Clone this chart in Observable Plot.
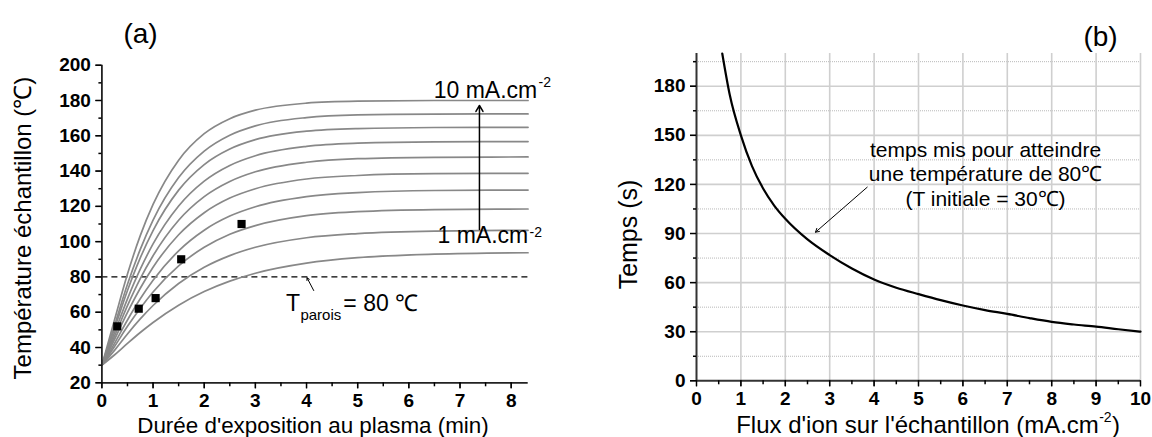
<!DOCTYPE html>
<html><head><meta charset="utf-8">
<script src="https://cdn.jsdelivr.net/npm/d3@7"></script>
<script src="https://cdn.jsdelivr.net/npm/@observablehq/plot@0.6"></script>
<style>
body{margin:0;background:#fff;}
#wrap{position:relative;width:1152px;height:437px;overflow:hidden;background:#fff;}
#wrap svg{position:absolute;top:0;}
</style></head><body><div id="wrap"></div>
<script>
// ---------- Panel (a) data ----------
const timeMin = [0, 0.25, 0.5, 0.75, 1, 1.5, 2, 2.5, 3, 4, 5, 6.5, 8.33];
const fluxLevels = [1, 2, 3, 4, 5, 6, 7, 8, 9, 10];
const temp1mA  = [30, 35.9, 42.3, 48.5, 54.2, 64.0, 71.7, 77.6, 82.1, 87.8, 90.9, 92.9, 93.7];
const temp2mA  = [30, 38.5, 47.7, 56.2, 63.8, 76.3, 85.5, 92.1, 96.8, 102.2, 104.6, 106.0, 106.4];
const temp3mA  = [30, 40.7, 52.0, 62.3, 71.5, 86.3, 96.8, 104.2, 109.1, 114.7, 117.0, 118.2, 118.5];
const temp4mA  = [30, 42.5, 55.6, 67.6, 78.1, 94.8, 106.5, 114.5, 119.8, 125.5, 127.8, 129.0, 129.2];
const temp5mA  = [30, 44.7, 59.9, 73.6, 85.5, 103.9, 116.4, 124.7, 130.0, 135.5, 137.5, 138.5, 138.7];
const temp6mA  = [30, 46.6, 63.7, 79.0, 92.0, 112.1, 125.5, 134.1, 139.6, 145.0, 147.0, 147.8, 148.0];
const temp7mA  = [30, 48.6, 67.6, 84.4, 98.7, 120.2, 134.3, 143.2, 148.7, 154.0, 155.8, 156.6, 156.7];
const temp8mA  = [30, 51.0, 72.3, 90.8, 106.3, 129.2, 143.7, 152.5, 157.8, 162.6, 164.1, 164.7, 164.8];
const temp9mA  = [30, 52.8, 75.8, 95.6, 112.2, 136.3, 151.3, 160.3, 165.6, 170.3, 171.8, 172.3, 172.4];
const temp10mA = [30, 56.0, 81.6, 103.4, 121.1, 146.2, 161.2, 169.7, 174.5, 178.5, 179.6, 180.0, 180.0];
const expTime = [0.3, 0.72, 1.05, 1.55, 2.73];
const expTemp = [52, 62, 68, 90, 110];
const wallTemp = [80];
const ticksAy = [20, 40, 60, 80, 100, 120, 140, 160, 180, 200];
const minorAy = [30, 50, 70, 90, 110, 130, 150, 170, 190];
const ticksAx = [0, 1, 2, 3, 4, 5, 6, 7, 8];
const minorAx = [0.5, 1.5, 2.5, 3.5, 4.5, 5.5, 6.5, 7.5];

// ---------- Panel (b) data ----------
const fluxB = [0.58, 0.75, 1, 1.25, 1.5, 1.75, 2, 2.5, 3, 3.5, 4, 4.5, 5, 5.5, 6, 6.5, 7, 7.5, 8, 8.5, 9, 9.5, 10];
const timeB = [200, 174.6, 150, 131.2, 117.5, 107.1, 99, 86.4, 76.8, 68.6, 61.9, 56.9, 53, 49.3, 46, 43.2, 40.9, 38.3, 36.0, 34.4, 33.1, 31.5, 30];
const ticksBy = [0, 30, 60, 90, 120, 150, 180];
const minorBy = [15, 45, 75, 105, 135, 165, 195];
const ticksBx = [0, 1, 2, 3, 4, 5, 6, 7, 8, 9, 10];
const minorBx = [0.5, 1.5, 2.5, 3.5, 4.5, 5.5, 6.5, 7.5, 8.5, 9.5];
const gridBx = [1, 2, 3, 4, 5, 6, 7, 8, 9, 10];
const gridBy = [30, 60, 90, 120, 150, 180];

const tempSeries = [temp1mA, temp2mA, temp3mA, temp4mA, temp5mA, temp6mA, temp7mA, temp8mA, temp9mA, temp10mA];
const curveRows = fluxLevels.flatMap((J, i) => timeMin.map((t, k) => ({J, t, T: tempSeries[i][k]})));
const expRows = expTime.map((t, i) => ({t, T: expTemp[i]}));
const fluxRows = fluxB.map((J, i) => ({J, s: timeB[i]}));

const FONT = "Liberation Sans, Arial, Helvetica, sans-serif";
const baseStyle = {fontFamily: FONT, fontSize: "19px", overflow: "visible"};
const blank = () => "";

// ---------- Plot (a) ----------
const plotA = Plot.plot({
  width: 576, height: 437,
  marginLeft: 101.4, marginRight: 48.3, marginTop: 64.7, marginBottom: 54.7,
  style: baseStyle,
  x: {domain: [0, 8.333], label: null},
  y: {domain: [20, 200], label: null},
  marks: [
    Plot.ruleY(wallTemp, {stroke: "black", strokeWidth: 1.2, strokeDasharray: "6,4"}),
    Plot.line(curveRows, {x: "t", y: "T", z: "J", stroke: "#888", strokeWidth: 1.7, curve: "monotone-x"}),
    Plot.dot(expRows, {x: "t", y: "T", symbol: "square", fill: "black", stroke: "none", r: 4.6}),
    Plot.arrow([{x1: 7.38, y1: 106.9, x2: 7.38, y2: 177.2}], {x1: "x1", y1: "y1", x2: "x2", y2: "y2", stroke: "black", strokeWidth: 1.5, headLength: 7}),
    Plot.arrow([{x1: 4.14, y1: 72.3, x2: 4.01, y2: 79.5}], {x1: "x1", y1: "y1", x2: "x2", y2: "y2", stroke: "black", strokeWidth: 1, headLength: 4}),
    Plot.ruleX([0], {stroke: "#222", strokeWidth: 1.8}),
    Plot.ruleY([20], {stroke: "#222", strokeWidth: 1.8}),
    Plot.axisY({ticks: ticksAy, tickSize: 6, tickPadding: 5, fontWeight: "bold", fontSize: 19, label: null}),
    Plot.axisY({ticks: ticksAy, tickSize: 6, strokeWidth: 1.5, tickFormat: blank, label: null}),
    Plot.axisY({ticks: minorAy, tickSize: 3, strokeWidth: 1.5, tickFormat: blank, label: null}),
    Plot.axisX({ticks: ticksAx, tickSize: 6, tickPadding: 5, fontWeight: "bold", fontSize: 19, label: null}),
    Plot.axisX({ticks: ticksAx, tickSize: 6, strokeWidth: 1.5, tickFormat: blank, label: null}),
    Plot.axisX({ticks: minorAx, tickSize: 4, strokeWidth: 1.5, tickFormat: blank, label: null}),
    // texts
    Plot.text([{x: 0.755, y: 217.4, s: "(a)"}], {x: "x", y: "y", text: "s", fontSize: 28}),
    Plot.text([{x: -1.53, y: 107.7, s: "Température échantillon (℃)"}], {x: "x", y: "y", text: "s", fontSize: 24, rotate: -90}),
    Plot.text([{x: 4.126, y: -4.2, s: "Durée d'exposition au plasma (min)"}], {x: "x", y: "y", text: "s", fontSize: 22.4}),
    Plot.text([{x: 8.51, y: 185.7, s: "10 mA.cm"}], {x: "x", y: "y", text: "s", fontSize: 23, textAnchor: "end"}),
    Plot.text([{x: 8.534, y: 190.2, s: "-2"}], {x: "x", y: "y", text: "s", fontSize: 14, textAnchor: "start"}),
    Plot.text([{x: 8.333, y: 103.2, s: "1 mA.cm"}], {x: "x", y: "y", text: "s", fontSize: 23, textAnchor: "end"}),
    Plot.text([{x: 8.36, y: 104.9, s: "-2"}], {x: "x", y: "y", text: "s", fontSize: 14, textAnchor: "start"}),
    Plot.text([{x: 3.735, y: 65.0, s: "T"}], {x: "x", y: "y", text: "s", fontSize: 23}),
    Plot.text([{x: 3.88, y: 58.1, s: "parois"}], {x: "x", y: "y", text: "s", fontSize: 15, textAnchor: "start"}),
    Plot.text([{x: 4.72, y: 64.8, s: "= 80 ℃"}], {x: "x", y: "y", text: "s", fontSize: 23, textAnchor: "start"})
  ]
});

// ---------- Plot (b) ----------
const plotB = Plot.plot({
  width: 576, height: 437,
  marginLeft: 120, marginRight: 12, marginTop: 53, marginBottom: 56.7,
  style: baseStyle,
  x: {domain: [0, 10], label: null},
  y: {domain: [0, 200], label: null},
  marks: [
    Plot.ruleY(minorBy, {stroke: "#b8b8b8", strokeWidth: 1, strokeDasharray: "1,1"}),
    Plot.ruleY(gridBy, {stroke: "#cfcfcf", strokeWidth: 1.6}),
    Plot.ruleX(gridBx, {stroke: "#cfcfcf", strokeWidth: 1.6}),
    Plot.line(fluxRows, {x: "J", y: "s", stroke: "black", strokeWidth: 2.2, curve: "monotone-x"}),
    Plot.arrow([{x1: 3.845, y1: 118.3, x2: 2.68, y2: 90.8}], {x1: "x1", y1: "y1", x2: "x2", y2: "y2", stroke: "black", strokeWidth: 1, headLength: 6}),
    Plot.ruleX([0], {stroke: "#333", strokeWidth: 2}),
    Plot.ruleY([0], {stroke: "#333", strokeWidth: 2}),
    Plot.axisY({ticks: ticksBy, tickSize: 6, tickPadding: 5, fontWeight: "bold", fontSize: 19, label: null}),
    Plot.axisY({ticks: ticksBy, tickSize: 6, strokeWidth: 1.5, tickFormat: blank, label: null}),
    Plot.axisY({ticks: minorBy, tickSize: 3, strokeWidth: 1.5, tickFormat: blank, label: null}),
    Plot.axisX({ticks: ticksBx, tickSize: 6, tickPadding: 5, fontWeight: "bold", fontSize: 19, label: null}),
    Plot.axisX({ticks: ticksBx, tickSize: 6, strokeWidth: 1.5, tickFormat: blank, label: null}),
    Plot.axisX({ticks: minorBx, tickSize: 4, strokeWidth: 1.5, tickFormat: blank, label: null}),
    Plot.text([{x: 9.1, y: 209.8, s: "(b)"}], {x: "x", y: "y", text: "s", fontSize: 28}),
    Plot.text([{x: -1.51, y: 89.4, s: "Temps (s)"}], {x: "x", y: "y", text: "s", fontSize: 25, rotate: -90}),
    Plot.text([{x: 9.061, y: -27.0, s: "Flux d'ion sur l'échantillon (mA.cm"}], {x: "x", y: "y", text: "s", fontSize: 24, textAnchor: "end"}),
    Plot.text([{x: 9.07, y: -22.5, s: "-2"}], {x: "x", y: "y", text: "s", fontSize: 14, textAnchor: "start"}),
    Plot.text([{x: 9.36, y: -27.0, s: ")"}], {x: "x", y: "y", text: "s", fontSize: 24, textAnchor: "start"}),
    Plot.text([{x: 6.51, y: 126.7, s: "temps mis pour atteindre\nune température de 80℃\n(T initiale = 30℃)"}], {x: "x", y: "y", text: "s", fontSize: 21, lineHeight: 1.16})
  ]
});

const wrap = document.getElementById("wrap");
plotA.style.left = "0px";
plotB.style.left = "576px";
wrap.appendChild(plotA);
wrap.appendChild(plotB);
</script></body></html>
